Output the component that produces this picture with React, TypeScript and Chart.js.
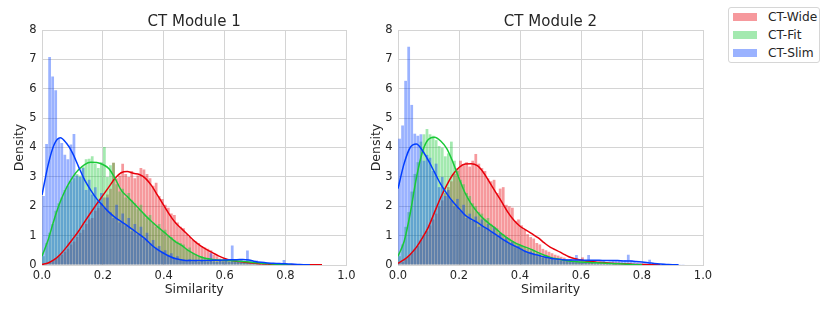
import React, { useEffect, useRef } from "react";
import { Chart, registerables } from "chart.js";

Chart.register(...registerables);

// ---------- data ----------
const BIN_WIDTH = 0.01; // histogram bins from 0.00 to 1.00
const KDE_STEP = 0.02; // kde curve sample spacing from 0.00

const seriesNames = ["CT-Wide", "CT-Fit", "CT-Slim"];
const panelTitles = ["CT Module 1", "CT Module 2"];
const xTicks = [0, 0.2, 0.4, 0.6, 0.8, 1.0];
const yTicks = [0, 1, 2, 3, 4, 5, 6, 7, 8];

// Module 1 histograms (density per 0.01 bin)
const m1Wide = [
  0.02, 0.05, 0.1, 0.15, 0.22, 0.3, 0.35, 0.45, 0.55, 0.7,
  0.8, 0.95, 1.1, 1.2, 1.4, 1.55, 1.6, 1.85, 1.95, 2.1,
  2.3, 2.4, 2.6, 3.48, 2.95, 3.05, 3.45, 3.1, 3.0, 3.2,
  2.95, 3.05, 3.3, 3.25, 3.1, 2.95, 2.7, 2.8, 2.35, 2.25,
  2.05, 1.95, 1.75, 1.7, 1.45, 1.3, 1.25, 1.05, 0.95, 0.85,
  0.8, 0.75, 0.65, 0.6, 0.55, 0.5, 0.35, 0.3, 0.22, 0.2,
  0.15, 0.14, 0.12, 0.1, 0.09, 0.08, 0.07, 0.06, 0.05, 0.05,
  0.04, 0.04, 0.03, 0.03, 0.02, 0.02, 0.02, 0.02, 0.01, 0.01,
  0.01, 0.01, 0.01, 0.01, 0.01, 0.01, 0.01, 0.01, 0.01, 0.01,
  0.01, 0.01, 0.02, 0, 0, 0, 0, 0, 0, 0,
];
const m1Fit = [
  0.3, 0.75, 1.1, 1.4, 1.85, 2.1, 2.3, 2.55, 2.7, 2.85,
  2.95, 3.1, 3.05, 3.35, 3.6, 3.62, 3.7, 3.45, 3.3, 3.5,
  4.02, 3.0, 3.4, 3.48, 2.75, 2.5, 2.6, 2.3, 2.45, 2.2,
  2.1, 1.9, 2.05, 1.75, 1.6, 1.7, 1.45, 1.3, 1.4, 1.15,
  1.2, 1.0, 0.95, 0.85, 0.8, 0.75, 0.7, 0.55, 0.6, 0.4,
  0.35, 0.3, 0.3, 0.25, 0.22, 0.18, 0.2, 0.15, 0.17, 0.14,
  0.15, 0.13, 0.15, 0.12, 0.14, 0.1, 0.12, 0.1, 0.08, 0.1,
  0.06, 0.05, 0.05, 0.04, 0.03, 0.03, 0.02, 0.02, 0.02, 0.01,
  0.01, 0.01, 0, 0, 0, 0, 0, 0, 0, 0,
  0, 0, 0, 0, 0, 0, 0, 0, 0, 0,
];
const m1Slim = [
  2.35, 4.12, 7.08, 6.42, 5.95, 4.3, 4.15, 3.75, 3.6, 4.1,
  4.46, 3.05, 3.0, 3.3, 2.55, 2.9, 2.4, 2.65, 2.2, 2.45,
  1.95, 2.3, 1.8, 1.6, 2.05, 1.45, 1.75, 1.35, 1.6, 1.15,
  1.4, 1.05, 1.3, 0.9, 1.1, 0.75, 0.85, 0.6, 0.65, 0.45,
  0.5, 0.35, 0.4, 0.25, 0.3, 0.2, 0.18, 0.15, 0.2, 0.12,
  0.15, 0.1, 0.14, 0.12, 0.1, 0.4, 0.12, 0.1, 0.15, 0.12,
  0.14, 0.1, 0.66, 0.12, 0.15, 0.18, 0.12, 0.49, 0.15, 0.12,
  0.15, 0.08, 0.06, 0.05, 0.04, 0.05, 0.03, 0.04, 0.03, 0.17,
  0.02, 0.02, 0.01, 0.01, 0.01, 0, 0, 0, 0, 0,
  0, 0, 0, 0, 0, 0, 0, 0, 0, 0,
];

// Module 2 histograms
const m2Wide = [
  0.05, 0.1, 0.2, 0.3, 0.4, 0.55, 0.65, 0.85, 1.0, 1.15,
  1.35, 1.55, 1.75, 2.0, 2.2, 2.45, 2.65, 2.85, 3.1, 3.3,
  3.55, 3.4, 3.5, 3.35, 3.55, 3.78, 3.45, 3.3, 3.2, 2.95,
  2.85, 2.9, 2.45, 2.6, 2.65, 2.05, 2.0, 1.95, 1.5, 1.55,
  1.35, 1.2, 1.05, 0.95, 0.9, 0.75, 0.7, 0.55, 0.5, 0.45,
  0.4, 0.35, 0.32, 0.28, 0.25, 0.2, 0.18, 0.15, 0.12, 0.12,
  0.26, 0.09, 0.08, 0.07, 0.06, 0.06, 0.05, 0.04, 0.04, 0.03,
  0.03, 0.03, 0.02, 0.02, 0.02, 0.02, 0.01, 0.01, 0.01, 0.01,
  0.01, 0.01, 0.01, 0.01, 0.01, 0, 0, 0, 0, 0,
  0, 0, 0, 0, 0, 0, 0, 0, 0, 0,
];
const m2Fit = [
  0.3, 0.7, 1.3, 1.8, 2.5, 3.1, 3.5, 4.2, 4.45, 4.63,
  4.45, 4.4, 4.25, 4.05, 4.0, 3.7, 3.8, 4.2, 3.55, 3.2,
  2.9, 2.75, 2.45, 2.35, 2.1, 2.0, 1.8, 1.75, 1.55, 1.6,
  1.4, 1.3, 1.25, 1.1, 1.05, 0.95, 0.9, 0.8, 0.75, 0.7,
  0.65, 0.62, 0.55, 0.5, 0.48, 0.42, 0.38, 0.3, 0.28, 0.25,
  0.22, 0.2, 0.16, 0.15, 0.13, 0.12, 0.1, 0.1, 0.09, 0.08,
  0.08, 0.07, 0.06, 0.06, 0.05, 0.05, 0.04, 0.04, 0.03, 0.03,
  0.03, 0.02, 0.02, 0.02, 0.02, 0.01, 0.01, 0.01, 0.01, 0.01,
  0, 0, 0, 0, 0, 0, 0, 0, 0, 0,
  0, 0, 0, 0, 0, 0, 0, 0, 0, 0,
];
const m2Slim = [
  4.3, 4.75, 6.27, 7.43, 5.45, 4.47, 4.4, 4.45, 3.55, 3.75,
  3.65, 3.2, 3.45, 2.65, 3.0, 2.35, 2.55, 2.2, 2.0, 2.25,
  1.85, 2.05, 1.6, 1.75, 1.5, 1.65, 1.3, 1.55, 1.25, 1.4,
  1.15, 1.3, 1.0, 1.1, 0.85, 0.95, 0.75, 0.8, 0.6, 0.65,
  0.55, 0.5, 0.4, 0.45, 0.35, 0.3, 0.32, 0.25, 0.28, 0.2,
  0.22, 0.18, 0.2, 0.15, 0.18, 0.15, 0.2, 0.12, 0.34, 0.15,
  0.12, 0.15, 0.34, 0.12, 0.15, 0.1, 0.12, 0.15, 0.1, 0.12,
  0.15, 0.17, 0.17, 0.15, 0.17, 0.35, 0.17, 0.1, 0.08, 0.06,
  0.05, 0.05, 0.18, 0.03, 0.02, 0.02, 0.01, 0.01, 0.01, 0.01,
  0.01, 0.01, 0.01, 0.01, 0, 0, 0, 0, 0, 0,
];

// KDE curves (sampled every 0.02 from 0)
const m1WideKde = [
  0.02, 0.07, 0.18, 0.36, 0.6, 0.87, 1.15, 1.47, 1.78, 2.08,
  2.37, 2.66, 2.95, 3.14, 3.18, 3.12, 3.08, 2.95, 2.7, 2.37,
  2.03, 1.7, 1.42, 1.22, 1.02, 0.82, 0.66, 0.53, 0.42, 0.31,
  0.22, 0.16, 0.13, 0.1, 0.08, 0.06, 0.04, 0.03, 0.02, 0.02,
  0.01, 0.01, 0.01, 0.01, 0.01, 0.01, 0.005,
];
const m1FitKde = [
  0.3, 0.85, 1.55, 2.15, 2.62, 2.98, 3.24, 3.42, 3.5, 3.49,
  3.42, 3.28, 2.95, 2.55, 2.33, 2.12, 1.9, 1.68, 1.48, 1.3,
  1.13, 0.95, 0.78, 0.66, 0.5, 0.38, 0.28, 0.22, 0.19, 0.17,
  0.16, 0.15, 0.14, 0.12, 0.1, 0.08, 0.06, 0.05, 0.03, 0.02,
  0.01, 0.005,
];
const m1SlimKde = [
  2.38, 3.4, 4.1, 4.33, 4.15, 3.82, 3.35, 2.9, 2.55, 2.25,
  2.02, 1.8, 1.62, 1.48, 1.34, 1.19, 1.04, 0.88, 0.68, 0.52,
  0.4, 0.29, 0.21, 0.17, 0.15, 0.15, 0.15, 0.15, 0.16, 0.16,
  0.17, 0.18, 0.18, 0.19, 0.17, 0.12, 0.09, 0.07, 0.06, 0.05,
  0.04, 0.03, 0.02, 0.01, 0.005,
];
const m2WideKde = [
  0.06, 0.18, 0.36, 0.6, 0.92, 1.3, 1.8, 2.3, 2.72, 3.08,
  3.32, 3.44, 3.45, 3.38, 3.15, 2.82, 2.48, 2.15, 1.8, 1.52,
  1.32, 1.19, 1.06, 0.92, 0.75, 0.6, 0.5, 0.39, 0.28, 0.21,
  0.17, 0.13, 0.11, 0.09, 0.08, 0.06, 0.05, 0.04, 0.03, 0.02,
  0.02, 0.01, 0.01, 0.005,
];
const m2FitKde = [
  0.3, 0.8, 1.75, 2.95, 3.85, 4.28, 4.35, 4.22, 3.96, 3.5,
  2.95, 2.45, 2.08, 1.8, 1.58, 1.4, 1.24, 1.06, 0.91, 0.78,
  0.68, 0.6, 0.52, 0.42, 0.33, 0.26, 0.21, 0.17, 0.14, 0.12,
  0.1, 0.09, 0.08, 0.07, 0.06, 0.05, 0.04, 0.03, 0.02, 0.01,
  0.005,
];
const m2SlimKde = [
  2.6, 3.45, 4.0, 4.12, 3.9, 3.55, 3.15, 2.75, 2.43, 2.15,
  1.92, 1.7, 1.56, 1.45, 1.31, 1.18, 1.04, 0.9, 0.77, 0.66,
  0.56, 0.45, 0.38, 0.33, 0.27, 0.23, 0.2, 0.18, 0.17, 0.17,
  0.17, 0.16, 0.16, 0.16, 0.15, 0.15, 0.15, 0.14, 0.14, 0.12,
  0.1, 0.08, 0.05, 0.03, 0.02, 0.01, 0.005,
];

// ---------- styling ----------
const FONT = "'DejaVu Sans', 'Liberation Sans', sans-serif";
const TEXT = "#262626";
const GRID = "#d4d4d4";
const LINE_COLORS = ["#e8000b", "#1ac938", "#023eff"];
const FILL_COLORS = ["rgba(232,0,11,0.4)", "rgba(26,201,56,0.4)", "rgba(2,62,255,0.4)"];

const centerTitle = {
  id: "centerTitle",
  afterDraw(chart: any, _args: any, opts: any) {
    const { ctx, chartArea } = chart;
    ctx.save();
    ctx.font = `15px ${FONT}`;
    ctx.fillStyle = TEXT;
    ctx.textAlign = "center";
    ctx.textBaseline = "alphabetic";
    ctx.fillText(opts.text, (chartArea.left + chartArea.right) / 2, 25.5);
    ctx.restore();
  },
};

function buildConfig(
  title: string,
  hists: number[][],
  kdes: number[][],
  yAxisWidth: number,
  yTitlePad: number,
  rightPad: number
): any {
  const datasets: any[] = [];
  hists.forEach((vals, s) => {
    datasets.push({
      type: "bar",
      label: seriesNames[s],
      data: vals.map((y, i) => ({ x: (i + 0.5) * BIN_WIDTH, y })),
      backgroundColor: FILL_COLORS[s],
      borderWidth: 0,
      grouped: false,
      categoryPercentage: 1,
      barPercentage: 0.9,
      order: 6 - s,
    });
  });
  kdes.forEach((vals, s) => {
    datasets.push({
      type: "line",
      label: seriesNames[s] + " KDE",
      data: vals.map((y, i) => ({ x: i * KDE_STEP, y })),
      borderColor: LINE_COLORS[s],
      borderWidth: 1.5,
      pointRadius: 0,
      fill: false,
      cubicInterpolationMode: "monotone",
      order: 3 - s,
    });
  });
  return {
    type: "bar",
    data: { datasets },
    options: {
      responsive: false,
      animation: false,
      events: [],
      layout: { padding: { left: 0, right: rightPad, top: 30, bottom: 0 } },
      plugins: {
        legend: { display: false },
        tooltip: { enabled: false },
        title: { display: false },
        centerTitle: { text: title },
      },
      scales: {
        x: {
          type: "linear",
          min: 0,
          max: 1,
          offset: false,
          grid: { color: GRID, lineWidth: 1, offset: false, drawTicks: false },
          border: { color: GRID },
          afterBuildTicks: (scale: any) => {
            scale.ticks = xTicks.map((v) => ({ value: v }));
          },
          ticks: {
            padding: 4.5,
            autoSkip: false,
            maxRotation: 0,
            color: TEXT,
            font: { family: FONT, size: 11.5 },
            callback: (v: any) => Number(v).toFixed(1),
          },
          title: {
            display: true,
            text: "Similarity",
            color: TEXT,
            font: { family: FONT, size: 12.5 },
            padding: { top: 0, bottom: 14.5 },
          },
          afterFit: (scale: any) => {
            scale.height = 47;
          },
        },
        y: {
          type: "linear",
          min: 0,
          max: 8,
          grid: { color: GRID, lineWidth: 1, drawTicks: false },
          border: { color: GRID },
          afterBuildTicks: (scale: any) => {
            scale.ticks = yTicks.map((v) => ({ value: v }));
          },
          ticks: {
            padding: 5.5,
            color: TEXT,
            font: { family: FONT, size: 11.5 },
            callback: (v: any) => String(v),
          },
          title: {
            display: true,
            text: "Density",
            color: TEXT,
            font: { family: FONT, size: 12.5 },
            padding: { top: yTitlePad, bottom: 0 },
          },
          afterFit: (scale: any) => {
            scale.width = yAxisWidth;
          },
        },
      },
    },
    plugins: [centerTitle],
  };
}

function Panel(props: { left: number; config: () => any }) {
  const ref = useRef<HTMLCanvasElement | null>(null);
  useEffect(() => {
    if (!ref.current) return;
    const chart = new Chart(ref.current, props.config());
    return () => chart.destroy();
  }, []);
  return (
    <canvas
      ref={ref}
      width={360}
      height={312}
      style={{ position: "absolute", left: props.left, top: 0, width: 360, height: 312 }}
    />
  );
}

function Legend() {
  return (
    <div
      style={{
        position: "absolute",
        left: 728,
        top: 7,
        width: 92,
        height: 56,
        border: "1px solid #d6d6d6",
        borderRadius: 3,
        background: "#ffffff",
        fontFamily: FONT,
        fontSize: 12.2,
        color: TEXT,
        boxSizing: "border-box",
      }}
    >
      {seriesNames.map((name, i) => (
        <div
          key={name}
          style={{ position: "absolute", left: 4, top: 0 + i * 18, height: 18, display: "flex", alignItems: "center" }}
        >
          <span style={{ display: "inline-block", width: 24, height: 8, background: FILL_COLORS[i] }} />
          <span style={{ marginLeft: 11, lineHeight: "18px", whiteSpace: "nowrap" }}>{name}</span>
        </div>
      ))}
    </div>
  );
}

export default function App() {
  return (
    <div style={{ position: "absolute", left: 0, top: 0, width: 830, height: 312, background: "#ffffff", overflow: "hidden" }}>
      <Panel
        left={0}
        config={() =>
          buildConfig(panelTitles[0], [m1Wide, m1Fit, m1Slim], [m1WideKde, m1FitKde, m1SlimKde], 42, 12.5, 13)
        }
      />
      <Panel
        left={360}
        config={() =>
          buildConfig(panelTitles[1], [m2Wide, m2Fit, m2Slim], [m2WideKde, m2FitKde, m2SlimKde], 38, 9.2, 17)
        }
      />
      <Legend />
    </div>
  );
}
